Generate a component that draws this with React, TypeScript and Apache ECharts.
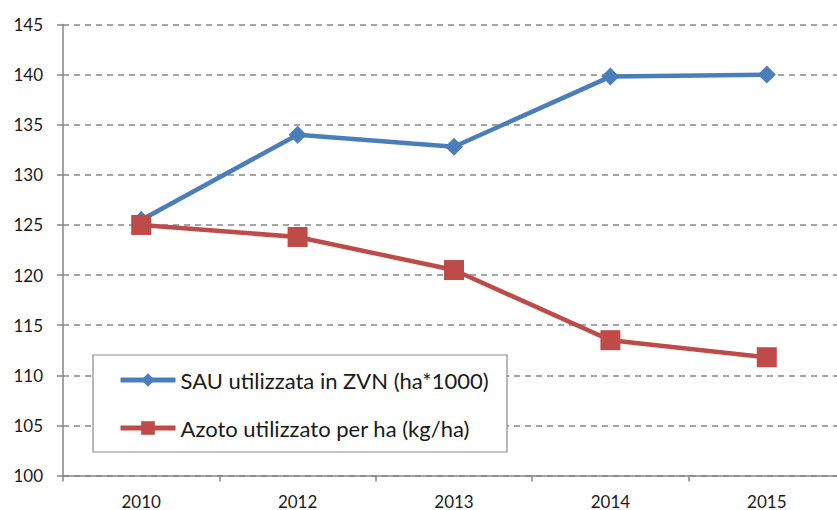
import React, { useEffect, useRef } from "react";
import * as echarts from "echarts";

const years = ["2010", "2012", "2013", "2014", "2015"];
const sauValues = [125.5, 134.0, 132.8, 139.8, 140.0];
const azotoValues = [125.0, 123.8, 120.5, 113.5, 111.8];
const seriesNames = ["SAU utilizzata in ZVN (ha*1000)", "Azoto utilizzato per ha (kg/ha)"];

const FONT = "Lato, 'Open Sans', sans-serif";

export default function App() {
  const ref = useRef<HTMLDivElement>(null);
  useEffect(() => {
    if (!ref.current) return;
    const chart = echarts.init(ref.current, undefined, { renderer: "svg" });
    chart.setOption({
      animation: false,
      backgroundColor: "#ffffff",
      grid: { left: 63, top: 24.5, width: 782, height: 451, containLabel: false },
      xAxis: {
        type: "category",
        data: years,
        boundaryGap: true,
        axisLine: { lineStyle: { color: "#868686", width: 1.5 } },
        axisTick: { show: true, length: 6, lineStyle: { color: "#868686", width: 1.5 } },
        axisLabel: { color: "#1a1a1a", fontSize: 17, fontFamily: FONT, margin: 17 },
        splitLine: { show: false },
      },
      yAxis: {
        type: "value",
        min: 100,
        max: 145,
        interval: 5,
        axisLine: { show: true, lineStyle: { color: "#868686", width: 1.5 } },
        axisTick: { show: true, length: 6, lineStyle: { color: "#868686", width: 1.5 } },
        axisLabel: { color: "#1a1a1a", fontSize: 17, fontFamily: FONT, margin: 20 },
        splitLine: { show: true, lineStyle: { color: "#888888", width: 1.5, type: [6, 5] } },
      },
      legend: {
        orient: "vertical",
        left: 113,
        top: 364,
        padding: 5,
        itemWidth: 55,
        itemHeight: 17,
        itemGap: 26,
        borderWidth: 0,
        z: 20,
        lineStyle: { width: 5 },
        textStyle: { color: "#1a1a1a", fontSize: 22, fontFamily: FONT },
        data: seriesNames,
      },
      graphic: [
        {
          type: "rect",
          shape: { x: 93, y: 355, width: 414, height: 97 },
          style: { fill: "#ffffff", stroke: "#8c8c8c", lineWidth: 1.2 },
          z: 5,
        },
      ],
      series: [
        {
          name: seriesNames[0],
          type: "line",
          data: sauValues,
          symbol: "diamond",
          symbolSize: 18,
          lineStyle: { color: "#4a7ebb", width: 4.5 },
          itemStyle: { color: "#4a7ebb" },
          z: 3,
        },
        {
          name: seriesNames[1],
          type: "line",
          data: azotoValues,
          symbol: "rect",
          symbolSize: 20,
          lineStyle: { color: "#be4b48", width: 4.5 },
          itemStyle: { color: "#be4b48" },
          z: 4,
        },
      ],
    });
    return () => chart.dispose();
  }, []);
  return (
    <div
      ref={ref}
      style={{ position: "fixed", left: 0, top: 0, width: 850, height: 510 }}
    />
  );
}
